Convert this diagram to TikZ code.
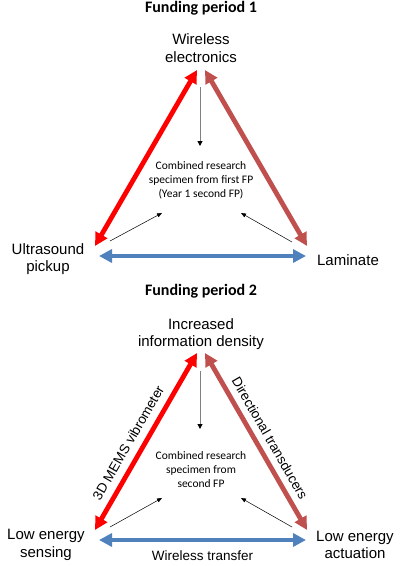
\documentclass[tikz,border=0pt]{standalone}
\usepackage{fontspec}
\setmainfont{Liberation Sans}
\newfontfamily\calibri{Carlito}
\usetikzlibrary{arrows.meta}
\definecolor{fpred}{RGB}{255,0,0}
\definecolor{fpbrown}{RGB}{192,80,77}
\definecolor{fpblue}{RGB}{79,129,189}
\tikzset{
	bigarrow/.style={line width=4.8pt, {Triangle[length=13pt,width=13pt]}-{Triangle[length=13pt,width=13pt]}},
	feedarrow/.style={line width=0.5pt, -{Triangle[length=5pt,width=4pt]}},
	downarrow/.style={line width=1pt, color=black!50, -{Triangle[length=5pt,width=5pt,color=black]}},
	title/.style={font=\calibri\bfseries\fontsize{16}{19}\selectfont},
	corner/.style={font=\fontsize{15}{17.5}\selectfont, align=center},
	side/.style={font=\fontsize{13.5}{16}\selectfont},
	centre/.style={font=\calibri\fontsize{11.5}{14}\selectfont, align=center}
}

\begin{document}
\begin{tikzpicture}[x=1pt, y=-1pt]
		%%%%% START %%%%%
		\useasboundingbox (0, 0) rectangle (400, 566);
		
		%% Funding period 1
		\node[title] (title1) at (201, 8) {Funding period 1};
		\node[corner] (wireless) at (201, 48) {Wireless\\electronics};
		\node[corner] (ultra) at (48, 259) {Ultrasound\\pickup};
		\node[corner] (laminate) at (348, 260) {Laminate};
		\node[centre] (combined1) at (201, 180) {Combined research\\specimen from first FP\\(Year 1 second FP)};
		
		\coordinate (top1l) at (197, 70);
		\coordinate (top1r) at (205, 70);
		\coordinate (left1) at (95, 246);
		\coordinate (right1) at (307, 246);
		\coordinate (blue1l) at (99, 256);
		\coordinate (blue1r) at (306, 256);
		
		\draw[bigarrow, color=fpred] (left1) -- (top1l);
		\draw[bigarrow, color=fpbrown] (top1r) -- (right1);
		\draw[bigarrow, color=fpblue] (blue1l) -- (blue1r);
		
		\coordinate (down1a) at (200, 87);
		\coordinate (down1b) at (200, 146);
		\draw[downarrow] (down1a) -- (down1b);
		\coordinate (feed1la) at (110, 241);
		\coordinate (feed1lb) at (162, 213);
		\coordinate (feed1ra) at (292, 242);
		\coordinate (feed1rb) at (241, 213);
		\draw[feedarrow] (feed1la) -- (feed1lb);
		\draw[feedarrow] (feed1ra) -- (feed1rb);
		
		%% Funding period 2
		\node[title] (title2) at (201, 291) {Funding period 2};
		\node[corner] (density) at (201, 334) {Increased\\information density};
		\node[corner] (sensing) at (46, 545) {Low energy\\sensing};
		\node[corner] (actuation) at (355, 545) {Low energy\\actuation};
		\node[centre] (combined2) at (201, 470) {Combined research\\specimen from\\second FP};
		
		\coordinate (top2l) at (197, 353);
		\coordinate (top2r) at (205, 353);
		\coordinate (left2) at (95, 530);
		\coordinate (right2) at (307, 530);
		\coordinate (blue2l) at (99, 540);
		\coordinate (blue2r) at (306, 540);
		
		\draw[bigarrow, color=fpred] (left2) -- node[side, sloped, above=4pt, pos=0.45, text=black] (mems) {3D MEMS vibrometer} (top2l);
		\draw[bigarrow, color=fpbrown] (top2r) -- node[side, sloped, above=3pt, pos=0.52, text=black] (directional) {Directional transducers} (right2);
		\draw[bigarrow, color=fpblue] (blue2l) -- node[side, below=5pt, text=black] (transfer) {Wireless transfer} (blue2r);
		
		\coordinate (down2a) at (200, 371);
		\coordinate (down2b) at (200, 429);
		\draw[downarrow] (down2a) -- (down2b);
		\coordinate (feed2la) at (110, 527);
		\coordinate (feed2lb) at (162, 498);
		\coordinate (feed2ra) at (292, 527);
		\coordinate (feed2rb) at (241, 498);
		\draw[feedarrow] (feed2la) -- (feed2lb);
		\draw[feedarrow] (feed2ra) -- (feed2rb);
		
		%%%%% END %%%%%
	\end{tikzpicture}
\end{document}
